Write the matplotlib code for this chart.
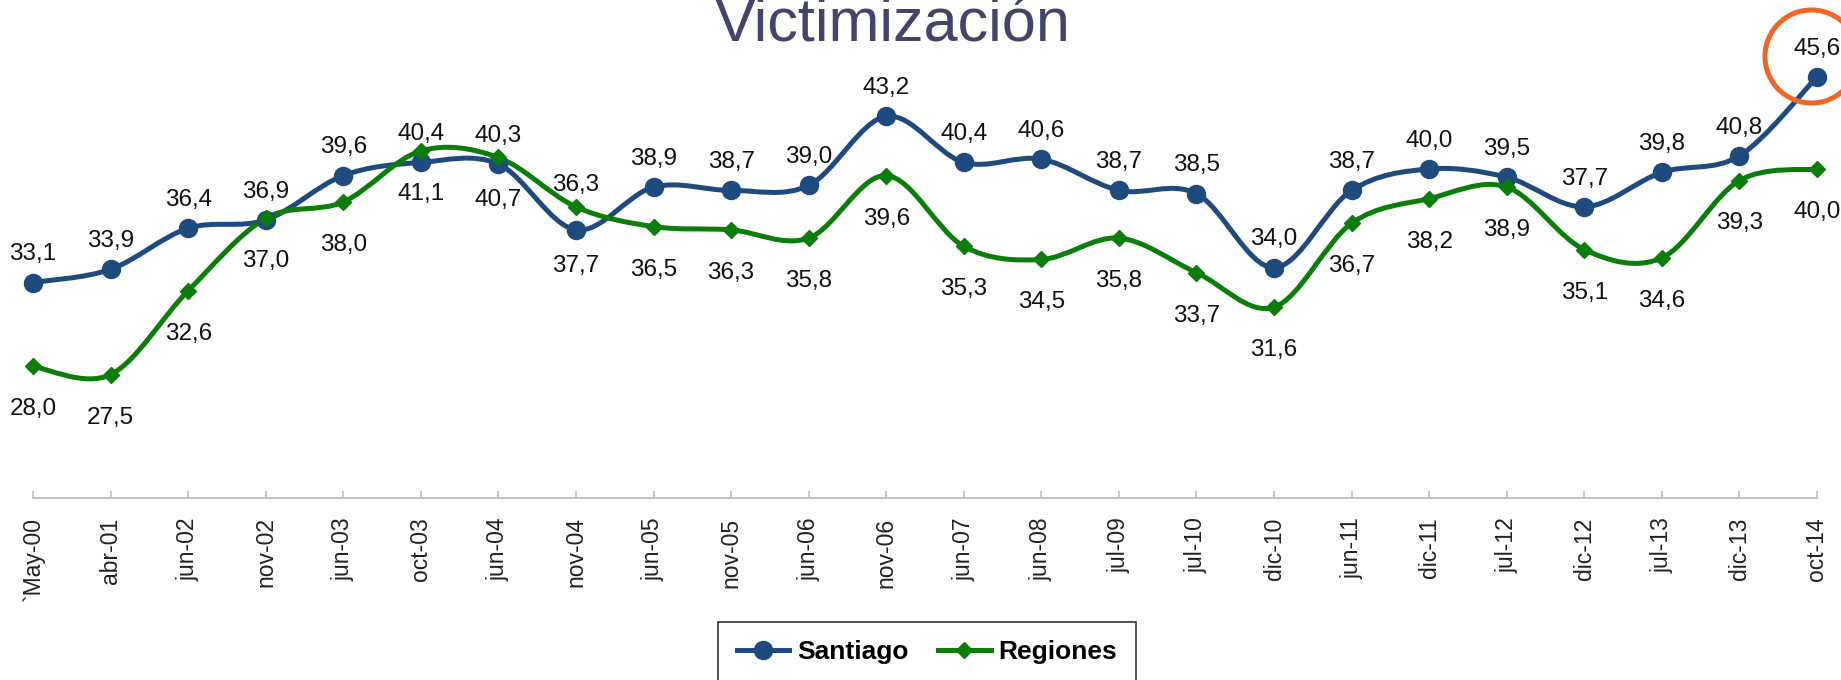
import numpy as np
import matplotlib
matplotlib.use("Agg")
import matplotlib.pyplot as plt
from matplotlib.path import Path
from matplotlib.patches import PathPatch
from matplotlib.lines import Line2D
from matplotlib.transforms import offset_copy

plt.rcParams['font.family'] = ['Liberation Sans', 'DejaVu Sans']

# ---------------- datos ----------------
fechas = ['`May-00', 'abr-01', 'jun-02', 'nov-02', 'jun-03', 'oct-03', 'jun-04',
          'nov-04', 'jun-05', 'nov-05', 'jun-06', 'nov-06', 'jun-07', 'jun-08',
          'jul-09', 'jul-10', 'dic-10', 'jun-11', 'dic-11', 'jul-12', 'dic-12',
          'jul-13', 'dic-13', 'oct-14']
santiago = [33.1, 33.9, 36.4, 36.9, 39.6, 40.4, 40.3, 36.3, 38.9, 38.7, 39.0, 43.2,
            40.4, 40.6, 38.7, 38.5, 34.0, 38.7, 40.0, 39.5, 37.7, 39.8, 40.8, 45.6]
regiones = [28.0, 27.5, 32.6, 37.0, 38.0, 41.1, 40.7, 37.7, 36.5, 36.3, 35.8, 39.6,
            35.3, 34.5, 35.8, 33.7, 31.6, 36.7, 38.2, 38.9, 35.1, 34.6, 39.3, 40.0]

AZUL = '#1F4A7E'
VERDE = '#0A7D0A'
NARANJA = '#F26522'

# etiquetas movidas a mano en el original (nov-04)
ajuste_stgo = {7: 12}
ajuste_reg = {7: -12}


def curva_suave(xs, ys):
    """Path Bezier tipo Catmull-Rom (suavizado estilo Excel)."""
    p = np.column_stack([xs, ys]).astype(float)
    n = len(p)
    verts = [p[0]]
    codes = [Path.MOVETO]
    for i in range(n - 1):
        p0 = p[i - 1] if i > 0 else p[i]
        p1 = p[i]
        p2 = p[i + 1]
        p3 = p[i + 2] if i + 2 < n else p[i + 1]
        c1 = p1 + (p2 - p0) / 6.0
        c2 = p2 - (p3 - p1) / 6.0
        verts += [c1, c2, p2]
        codes += [Path.CURVE4] * 3
    return Path(verts, codes)


fig = plt.figure(figsize=(18.41, 6.80), dpi=100)
ax = fig.add_axes([33 / 1841, 1 - 498 / 680, (1817 - 33) / 1841, (498 - 4.5) / 680])

x = np.arange(len(fechas))

for serie, color, marker, ms in [(santiago, AZUL, 'o', 13), (regiones, VERDE, 'D', 8.5)]:
    ax.add_patch(PathPatch(curva_suave(x, serie), facecolor='none', edgecolor=color,
                           lw=3.6, capstyle='round', joinstyle='round', zorder=3,
                           clip_on=False))
    ax.plot(x, serie, linestyle='none', marker=marker, ms=ms, color=color, zorder=4,
            clip_on=False)

# etiquetas de datos
for i, (xi, v) in enumerate(zip(x, santiago)):
    ax.annotate(f"{v:.1f}".replace('.', ','), (xi, v),
                xytext=(0, 16 + ajuste_stgo.get(i, 0)),
                textcoords='offset points', ha='center', va='baseline',
                fontsize=17.5, color='#111111', annotation_clip=False)
for i, (xi, v) in enumerate(zip(x, regiones)):
    ax.annotate(f"{v:.1f}".replace('.', ','), (xi, v),
                xytext=(0, -23 + ajuste_reg.get(i, 0)),
                textcoords='offset points', ha='center', va='top',
                fontsize=17.5, color='#111111', annotation_clip=False)

# circulo naranja sobre el ultimo valor de Santiago
tr = offset_copy(ax.transData, fig=fig, x=-5.5, y=20.5, units='dots')
ax.plot([x[-1]], [santiago[-1]], marker='o', ms=67, mfc='none', mec=NARANJA,
        mew=3.6, transform=tr, clip_on=False, zorder=5)

ax.set_xlim(0, len(fechas) - 1)
ax.set_ylim(20, 50)
ax.set_xticks(x)
ax.set_xticklabels(fechas, rotation=90, fontsize=16.5, color='#222222')
ax.tick_params(axis='x', direction='in', length=5, width=1.2, color='#BFBFBF', pad=14)
ax.set_yticks([])
for s in ['top', 'right', 'left']:
    ax.spines[s].set_visible(False)
ax.spines['bottom'].set_color('#BFBFBF')
ax.spines['bottom'].set_linewidth(1.3)

fig.text(893 / 1841, 1 - 42 / 680, 'Victimización', ha='center', va='baseline',
         fontsize=44, color='#43436B')

handles = [Line2D([], [], color=AZUL, lw=3.6, marker='o', ms=13),
           Line2D([], [], color=VERDE, lw=3.6, marker='D', ms=8.5)]
leg = fig.legend(handles, ['Santiago', 'Regiones'], loc='upper center',
                 bbox_to_anchor=(927 / 1841, 1 - 622 / 680), ncol=2,
                 prop={'size': 19, 'weight': 'bold'}, frameon=True, fancybox=False,
                 edgecolor='black', handlelength=2.0, handletextpad=0.3,
                 columnspacing=1.1, borderpad=0.7, borderaxespad=0)
leg.get_frame().set_linewidth(1.2)

fig.savefig('out.png', dpi=100)
